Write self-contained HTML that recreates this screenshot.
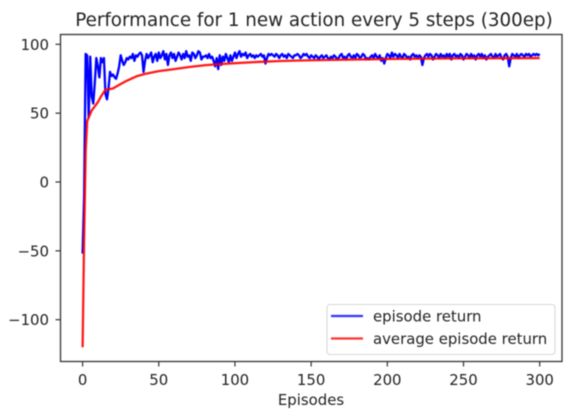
<!DOCTYPE html>
<html><head><meta charset="utf-8">
<style>
html,body{margin:0;padding:0;background:#fff;}
#wrap{width:580px;height:418px;overflow:hidden;}
svg{display:block;filter:blur(0.5px);}
text{font-family:"DejaVu Sans","Liberation Sans",sans-serif;fill:#222;}
</style></head>
<body>
<div id="wrap">
<svg id="chart" width="580" height="418" viewBox="0 0 580 418" xmlns="http://www.w3.org/2000/svg"></svg>
</div>
<script>
const episodeReturn = [
-52,-10,93,92,47,91,62,57,72,90,84,76,90,87,90,64,60,68,80,77,
78,76,75,79,84,92,88,85,87,90,89,91,90,93,88,92,91,93,94,92,
80,88,93,90,92,94,87,91,93,88,94,90,92,95,89,93,85,92,94,90,
93,88,91,94,92,89,93,90,95,91,92,88,94,93,90,92,95,94,89,91,
91,92,90,93,90,91,88,84,90,82,92,85,91,88,93,90,87,92,88,91,
94,90,93,95,91,93,92,94,90,92,93,91,92,90,92,91,92,93,91,92,
86,90,93,92,93,92,91,93,92,90,92,93,91,92,90,93,92,91,90,92,
92,93,92,90,91,93,92,93,91,90,92,91,90,92,91,89,91,92,90,91,
92,90,89,91,90,92,91,89,90,92,93,90,91,89,92,93,91,90,92,90,
93,92,90,91,93,92,89,90,89,91,92,90,93,91,90,92,88,90,86,90,
93,92,90,94,91,93,92,90,93,91,90,93,92,90,91,89,92,93,91,92,
90,92,91,85,90,92,93,91,93,92,89,91,93,92,90,93,91,92,90,93,
91,93,89,92,93,91,92,90,93,92,89,91,93,92,90,93,91,92,89,92,
93,91,93,90,92,89,91,92,93,91,90,93,91,92,93,90,89,92,93,91,
84,90,93,92,91,93,90,92,93,92,91,93,92,93,91,92,93,92,93,92,
93
];
const averageEpisodes = [0,1,2,3,4,6,8,10,12,15,18,20,24,28,32,36,41,50,60,70,80,90,100,115,130,150,175,200,225,250,275,300];
const averageValues = [-120,-40,22,44,47,52,55,58,62,67,67.5,68,70.5,73,75,77,78.5,80.5,82,83.5,84.8,85.6,86.3,87.2,87.9,88.4,88.9,89.3,89.6,89.8,89.9,90];
const xTickValues = [0,50,100,150,200,250,300];
const yTickValues = [100,50,0,-50,-100];
const legendLabels = ["episode return","average episode return"];

const svg = document.getElementById('chart');
const NS = 'http://www.w3.org/2000/svg';
const plot = {left:60.5, right:562, top:34.5, bottom:361.5};
function xScale(v){ return 82.6 + v * 1.5236; }
function yScale(v){ return 182 - v * 1.377; }
function make(tag, attrs, parent){
  const el = document.createElementNS(NS, tag);
  for (const k in attrs) el.setAttribute(k, attrs[k]);
  (parent || svg).appendChild(el);
  return el;
}
function fmt(v){ return v < 0 ? '\u2212' + Math.abs(v) : String(v); }

const bluePath = make('polyline', {
  points: episodeReturn.map((v,i)=>xScale(i)+','+yScale(v)).join(' '),
  fill:'none', stroke:'#0000ff', 'stroke-width':2.3, 'stroke-linejoin':'round'
});



const redPath = make('polyline', {
  points: averageEpisodes.map((e,i)=>xScale(e)+','+yScale(averageValues[i])).join(' '),
  fill:'none', stroke:'#ff0000', 'stroke-opacity':0.9, 'stroke-width':2.3, 'stroke-linejoin':'round'
});



const frame = make('rect', {
  x:plot.left, y:plot.top, width:plot.right-plot.left, height:plot.bottom-plot.top,
  fill:'none', stroke:'#333', 'stroke-width':1.3
});



xTickValues.forEach(v=>{
  const x = xScale(v);
  const tick = make('line', {x1:x, x2:x, y1:plot.bottom, y2:plot.bottom+5, stroke:'#333', 'stroke-width':1.2});
  
  
  const label = make('text', {x:x, y:385, 'text-anchor':'middle', 'font-size':14.9});
  label.textContent = fmt(v);
  
  
});
yTickValues.forEach(v=>{
  const y = yScale(v);
  const tick = make('line', {x1:plot.left-5, x2:plot.left, y1:y, y2:y, stroke:'#333', 'stroke-width':1.2});
  
  
  const label = make('text', {x:49, y:y+5.5, 'text-anchor':'end', 'font-size':14.9});
  label.textContent = fmt(v);
  
  
});

const title = make('text', {x:314, y:26, 'text-anchor':'middle', 'font-size':18.3});
title.textContent = 'Performance for 1 new action every 5 steps (300ep)';



const xTitle = make('text', {x:311, y:405, 'text-anchor':'middle', 'font-size':14.9});
xTitle.textContent = 'Episodes';



const legendBox = make('rect', {x:327, y:304.5, width:228, height:50, rx:3, fill:'#fff', 'fill-opacity':0.85, stroke:'#d8d8d8', 'stroke-width':1.1});



const legendColors = ['#0000ff','#ff0000'];
legendLabels.forEach((t,i)=>{
  const y = 316 + i*22.5;
  const sw = make('line', {x1:331, x2:363, y1:y, y2:y, stroke:legendColors[i], 'stroke-opacity':0.8, 'stroke-width':2.3});
  
  
  const tx = make('text', {x:373, y:y+5.5, 'font-size':14.9});
  tx.textContent = t;
  
  
});
</script>
</body></html>
